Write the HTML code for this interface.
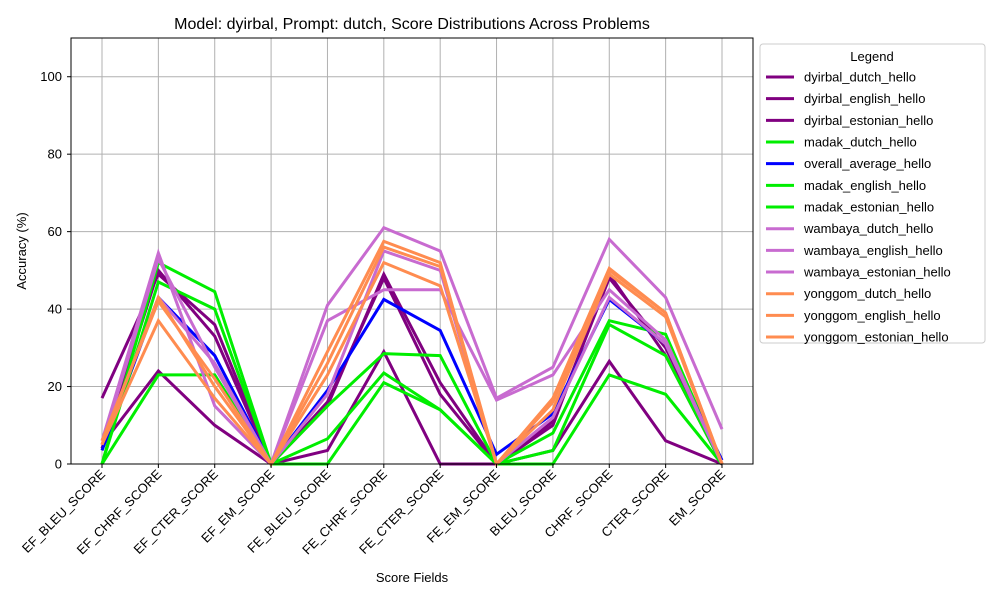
<!DOCTYPE html>
<html><head><meta charset="utf-8"><style>
body{margin:0;background:#fff}
svg{display:block;font-family:"Liberation Sans","DejaVu Sans",sans-serif}
</style></head><body>
<svg id="chart" width="1000" height="600" viewBox="0 0 1000 600">
<rect width="1000" height="600" fill="#fff"/>
<text x="412" y="29" font-size="16" text-anchor="middle">Model: dyirbal, Prompt: dutch, Score Distributions Across Problems</text>
<g id="grid"></g>
<g id="lines"></g>
<rect x="71" y="38" width="682" height="426" fill="none" stroke="#000" stroke-width="1"/>
<g id="axes"></g>
<text x="412" y="582" font-size="13" text-anchor="middle">Score Fields</text>
<text x="26" y="251" font-size="13" text-anchor="middle" transform="rotate(-90 26 251)">Accuracy (%)</text>
<g id="legend">
<rect x="760" y="44" width="225" height="299" rx="3" fill="#fff" stroke="#ccc"/>
<text x="872" y="61" font-size="13" text-anchor="middle">Legend</text>
</g>
</svg>
<script>
const categories=["EF_BLEU_SCORE","EF_CHRF_SCORE","EF_CTER_SCORE","EF_EM_SCORE","FE_BLEU_SCORE","FE_CHRF_SCORE","FE_CTER_SCORE","FE_EM_SCORE","BLEU_SCORE","CHRF_SCORE","CTER_SCORE","EM_SCORE"];
const yTicks=[0,20,40,60,80,100];
const seriesNames=["dyirbal_dutch_hello","dyirbal_english_hello","dyirbal_estonian_hello","madak_dutch_hello","overall_average_hello","madak_english_hello","madak_estonian_hello","wambaya_dutch_hello","wambaya_english_hello","wambaya_estonian_hello","yonggom_dutch_hello","yonggom_english_hello","yonggom_estonian_hello"];
const seriesColors=["#800080","#800080","#800080","#00ee00","#0000ff","#00ee00","#00ee00","#c86bd0","#c86bd0","#c86bd0","#ff8c50","#ff8c50","#ff8c50"];
const s0=[17,49,36,0,15,49,21,0,10,49,28,0];
const s1=[5,24,10,0,3.5,29,0,0,3.5,26.5,6,0];
const s2=[4,50,33,0,16,48,18,0,11,48,30,0];
const s3=[0,52,44.5,0,15,28.5,28,0,8,37,33.5,0];
const s4=[3.5,43,28,0,19,42.5,34.5,2.5,13,42.5,31,1];
const s5=[0,23,23,0,0,21,14,0,0,23,18,0];
const s6=[0,47,40,0,6.5,23.5,14,0,3.5,36,28,0];
const s7=[6,54.5,15,0,41,61,55,17,25,58,43,9];
const s8=[5,53,25,0,37,45,45,16.5,23,45,32,0];
const s9=[5,43,26,0,18,55,50,0,12,43,31,0];
const s10=[5,43,20,0,29,57.5,52,0,17,50.5,39,0];
const s11=[5,37,17,0,23,52,46,0,14,49,38,0];
const s12=[6,42,22,0,26,56,51,0,16,50,39,0];
const seriesValues=[s0,s1,s2,s3,s4,s5,s6,s7,s8,s9,s10,s11,s12];

const NS="http://www.w3.org/2000/svg";
const X0=102,X1=722,Y0=464,YTOP=38,YMAX=110;
function xScale(i){return X0+i*(X1-X0)/(categories.length-1);}
function yScale(v){return Y0-v*(Y0-YTOP)/YMAX;}
function mk(tag,attrs,parent){const e=document.createElementNS(NS,tag);for(const k in attrs)e.setAttribute(k,attrs[k]);parent.appendChild(e);return e;}
const grid=document.getElementById('grid'),axes=document.getElementById('axes'),lines=document.getElementById('lines'),legend=document.getElementById('legend');
categories.forEach((c,i)=>{
  const x=xScale(i);
  const g=mk('line',{x1:x,x2:x,y1:38,y2:464,stroke:'#b0b0b0','stroke-width':1},grid);
  
  
  mk('line',{x1:x,x2:x,y1:464,y2:468,stroke:'#000'},axes);
  const t=mk('text',{x:x+4,y:475,'font-size':13,'text-anchor':'end',transform:`rotate(-45 ${x+4} 475)`},axes);
  t.textContent=c;
  
  
});
yTicks.forEach(v=>{
  const y=yScale(v);
  const g=mk('line',{x1:71,x2:753,y1:y,y2:y,stroke:'#b0b0b0','stroke-width':1},grid);
  
  
  mk('line',{x1:67,x2:71,y1:y,y2:y,stroke:'#000'},axes);
  const t=mk('text',{x:62,y:y+4.5,'font-size':13,'text-anchor':'end'},axes);
  t.textContent=v;
  
  
});
seriesValues.forEach((vals,si)=>{
  const pts=vals.map((v,i)=>xScale(i)+','+yScale(v)).join(' ');
  const p=mk('polyline',{points:pts,fill:'none',stroke:seriesColors[si],'stroke-width':3,'stroke-linejoin':'miter'},lines);
  
  
  const ly=77+si*21.67;
  const ln=mk('line',{x1:766,x2:794,y1:ly,y2:ly,stroke:seriesColors[si],'stroke-width':3},legend);
  
  
  const t=mk('text',{x:804,y:ly+4.5,'font-size':13},legend);
  t.textContent=seriesNames[si];
  
  
});
</script>
</body></html>
